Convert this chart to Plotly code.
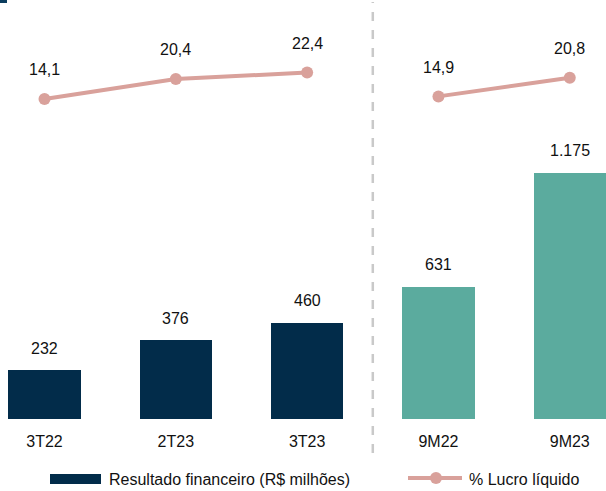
import plotly.graph_objects as go

# Data
periods = ["3T22", "2T23", "3T23", "9M22", "9M23"]
resultado = [232, 376, 460, 631, 1175]          # Resultado financeiro (R$ milhões)
lucro = [14.1, 20.4, 22.4, 14.9, 20.8]          # % Lucro líquido
n_quarters = 3                                   # first three are quarters, rest are 9M totals

NAVY = "#022C4A"
TEAL = "#5BAB9E"
PINK = "#D9A19B"
GRAY = "#C9C9C9"
TXT = "#111111"
FONT = "Liberation Sans Narrow, Arial Narrow, Liberation Sans, Arial, sans-serif"
FS = 16

W, H = 606, 491
MB = 72
PLOT_H = H - MB

def px_x(p):
    return p / W

def px_y(p):
    return (PLOT_H - p) / PLOT_H

def fmt_int(v):
    return f"{v:,}".replace(",", ".")

def fmt_pct(v):
    return f"{v:.1f}".replace(".", ",")

xs = list(range(len(periods)))

fig = go.Figure()

# Bars: quarters in navy, year-to-date in teal
fig.add_trace(go.Bar(x=xs[:n_quarters], y=resultado[:n_quarters], width=0.55,
                     marker=dict(color=NAVY, line=dict(width=0)), showlegend=False))
fig.add_trace(go.Bar(x=xs[n_quarters:], y=resultado[n_quarters:], width=0.55,
                     marker=dict(color=TEAL, line=dict(width=0)), showlegend=False))

# Net income margin lines, one segment per group
for seg in (slice(0, n_quarters), slice(n_quarters, None)):
    fig.add_trace(go.Scatter(x=xs[seg], y=lucro[seg], yaxis="y2", mode="lines+markers",
                             line=dict(color=PINK, width=4),
                             marker=dict(color=PINK, size=12), showlegend=False))

annotations = []
for x, v in zip(xs, resultado):
    annotations.append(dict(x=x, y=v, xref="x", yref="y", text=fmt_int(v), showarrow=False,
                            yanchor="middle", yshift=22, font=dict(size=FS, color=TXT, family=FONT)))
for x, v in zip(xs, lucro):
    annotations.append(dict(x=x, y=v, xref="x", yref="y2", text=fmt_pct(v), showarrow=False,
                            yanchor="middle", yshift=29, font=dict(size=FS, color=TXT, family=FONT)))

# Legend drawn by hand
annotations.append(dict(x=px_x(107), y=px_y(479), xref="paper", yref="paper",
                        text="Resultado financeiro (R$ milhões)", showarrow=False,
                        xanchor="left", yanchor="middle", font=dict(size=FS, color=TXT, family=FONT)))
annotations.append(dict(x=px_x(467), y=px_y(479), xref="paper", yref="paper",
                        text="% Lucro líquido", showarrow=False,
                        xanchor="left", yanchor="middle", font=dict(size=FS, color=TXT, family=FONT)))

shapes = [
    # separator between quarterly and 9M groups
    dict(type="line", xref="x", yref="paper", x0=2.5, x1=2.5, y0=px_y(453), y1=px_y(2),
         line=dict(color=GRAY, width=2.5, dash="9px,9px")),
    # legend swatches
    dict(type="rect", xref="paper", yref="paper", x0=px_x(50), x1=px_x(101),
         y0=px_y(484), y1=px_y(474), fillcolor=NAVY, line=dict(width=0)),
    dict(type="line", xref="paper", yref="paper", x0=px_x(408), x1=px_x(462),
         y0=px_y(478), y1=px_y(478), line=dict(color=PINK, width=4)),
    dict(type="circle", xref="paper", yref="paper", x0=px_x(430), x1=px_x(442),
         y0=px_y(484), y1=px_y(472), fillcolor=PINK, line=dict(width=0)),
    # small corner mark
    dict(type="rect", xref="paper", yref="paper", x0=px_x(0), x1=px_x(7),
         y0=px_y(3), y1=px_y(0), fillcolor="#0B3D5E", line=dict(width=0)),
]

fig.update_layout(
    width=W, height=H,
    margin=dict(l=0, r=0, t=0, b=MB),
    paper_bgcolor="white", plot_bgcolor="white",
    font=dict(family=FONT, size=FS, color=TXT),
    xaxis=dict(range=[-0.339, 4.276], tickvals=xs, ticktext=periods, showgrid=False,
               zeroline=False, showline=False, ticks="", ticklabelstandoff=11,
               tickfont=dict(size=FS, color=TXT)),
    yaxis=dict(range=[0, 2000], visible=False),
    yaxis2=dict(range=[-86.85, 45.3], overlaying="y", visible=False),
    shapes=shapes,
    annotations=annotations,
    bargap=0,
)

fig.write_html("out.html")
